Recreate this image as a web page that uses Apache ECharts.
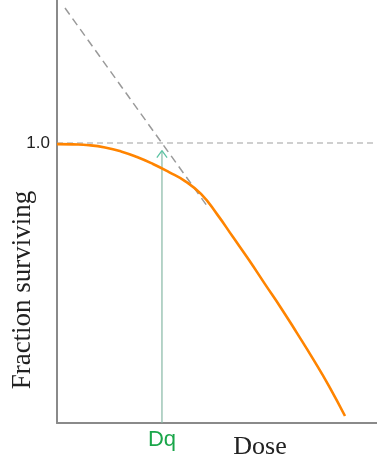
<!DOCTYPE html>
<html><head><meta charset="utf-8">
<script src="https://cdn.jsdelivr.net/npm/echarts@6/dist/echarts.min.js"></script>
<style>html,body{margin:0;padding:0;background:#fff}#c{width:377px;height:465px}</style>
</head><body><div id="c"></div>
<script>
// Survival curve (dose, fraction surviving)
const curveDose     = [0, 0.5, 1, 1.5, 2, 2.5, 3, 3.5, 4, 4.5, 5, 5.5, 6, 6.5, 7, 7.5, 8, 8.5, 9];
const curveFraction = [0.996, 0.995, 0.992, 0.984, 0.970, 0.950, 0.925, 0.896, 0.864, 0.818, 0.746, 0.664, 0.582, 0.496, 0.411, 0.321, 0.229, 0.132, 0.025];
// Extrapolated linear part (dashed)
const tangentDose     = [0.25, 4.66];
const tangentFraction = [1.482, 0.78];
// Reference level 1.0
const refDose = [0, 10];
const refFraction = [1.0, 1.0];
// Dq marker
const dqValue = 3.28;
const dqArrowTop = 0.9725;
const yTickValues = [1.0];
const yTickLabels = ['1.0'];
const xTickValues = [dqValue];
const xTickLabels = ['Dq'];

const zip = (a, b) => a.map((v, i) => [v, b[i]]);
const chart = echarts.init(document.getElementById('c'));
chart.setOption({
  animation: false,
  grid: {left: 57, right: 0, top: 0, bottom: 42},
  xAxis: {
    type: 'value', min: 0, max: 10,
    axisLine: {show: true, onZero: false, lineStyle: {color: '#8a8a8a', width: 2}},
    axisTick: {show: false}, splitLine: {show: false},
    axisLabel: {customValues: xTickValues, formatter: v => xTickLabels[xTickValues.indexOf(v)] || '',
      color: '#1aa64a', fontFamily: 'Liberation Sans', fontSize: 22, margin: 6}
  },
  yAxis: {
    type: 'value', min: 0, max: 423/280,
    axisLine: {show: true, lineStyle: {color: '#8a8a8a', width: 2}},
    axisTick: {show: false}, splitLine: {show: false},
    axisLabel: {customValues: yTickValues, formatter: v => yTickLabels[yTickValues.indexOf(v)] || '',
      color: '#222', fontFamily: 'Liberation Sans', fontSize: 17, margin: 7}
  },
  graphic: [
    {type: 'text', x: 23, y: 290, rotation: Math.PI/2,
     style: {text: 'Fraction surviving', font: '27px "Liberation Serif"', fill: '#222', align: 'center', verticalAlign: 'middle'}},
    {type: 'text', x: 260, y: 447,
     style: {text: 'Dose', font: '26px "Liberation Serif"', fill: '#222', align: 'center', verticalAlign: 'middle'}}
  ],
  series: [
    {type: 'line', data: zip(refDose, refFraction), symbol: 'none', silent: true,
     lineStyle: {color: '#a0a0a0', width: 1.2, type: [6, 4]}},
    {type: 'line', data: zip(tangentDose, tangentFraction), symbol: 'none', silent: true,
     lineStyle: {color: '#9a9a9a', width: 1.5, type: [8, 5]}},
    {type: 'line', data: [[dqValue, 0], [dqValue, dqArrowTop]], symbol: 'none', silent: true,
     lineStyle: {color: '#86b8a4', width: 1.2}},
    {type: 'line', data: [[dqValue - 0.16, dqArrowTop - 0.025], [dqValue, dqArrowTop], [dqValue + 0.16, dqArrowTop - 0.025]],
     symbol: 'none', silent: true, lineStyle: {color: '#5cc4a4', width: 1.3}},
    {type: 'line', data: zip(curveDose, curveFraction), symbol: 'none', smooth: 0.5, silent: true,
     lineStyle: {color: '#ff8400', width: 2.6}}
  ]
});
</script></body></html>
